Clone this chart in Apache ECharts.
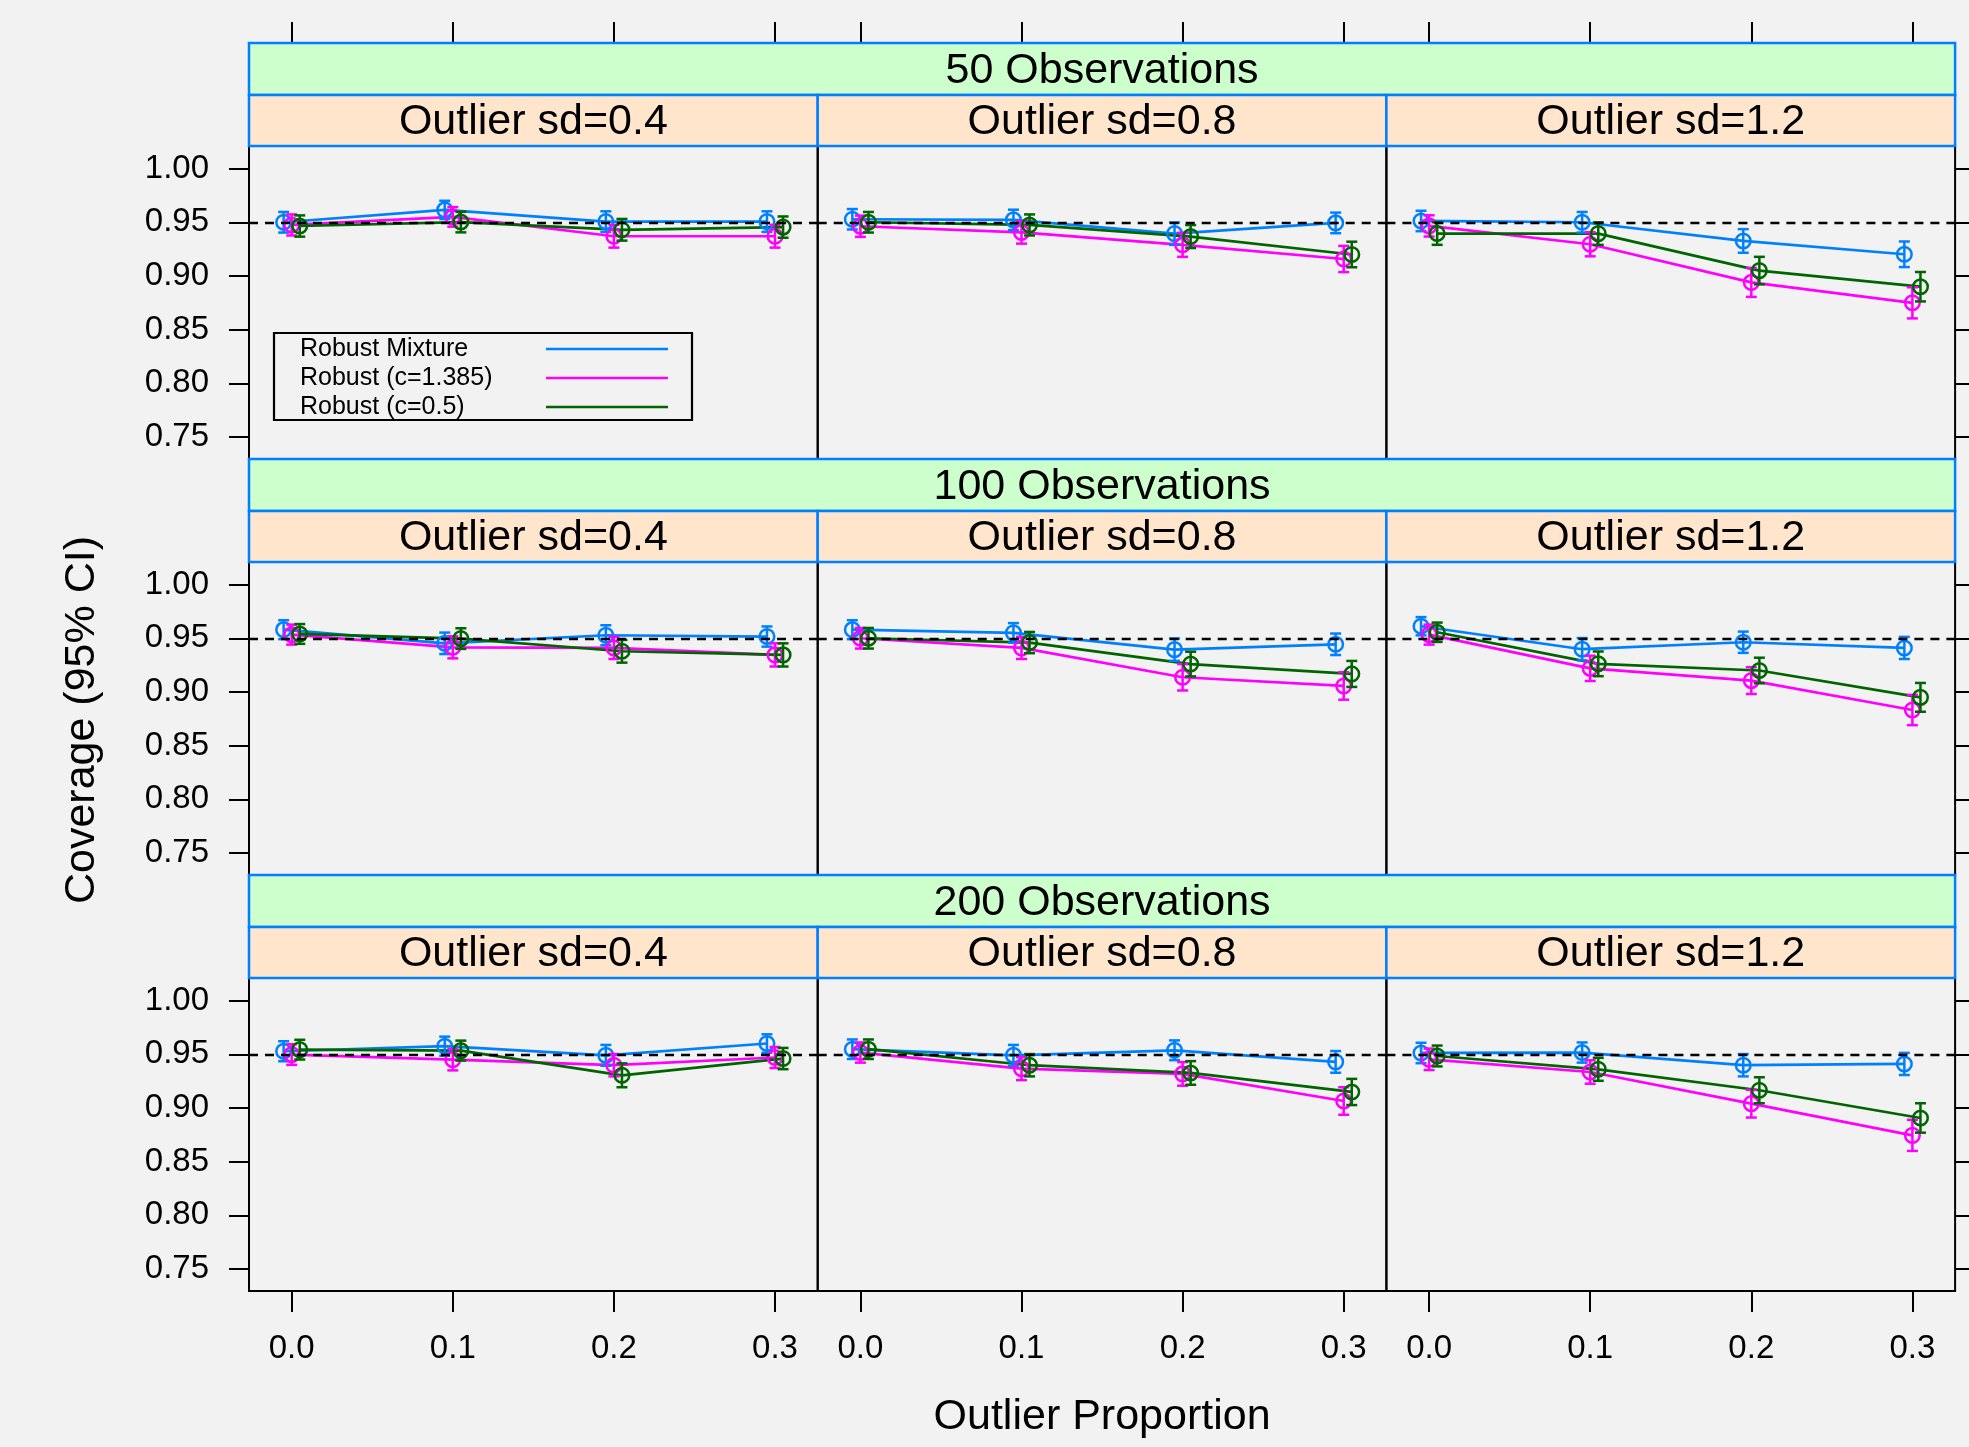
<!DOCTYPE html>
<html>
<head>
<meta charset="utf-8">
<script src="https://cdn.jsdelivr.net/npm/echarts@6/dist/echarts.min.js"></script>
<style>
html,body{margin:0;padding:0;background:#f2f2f2;}
#chart{width:1969px;height:1447px;}
</style>
</head>
<body>
<div id="chart"></div>
<script>
// ---------- DATA ----------
const xVals = [0, 0.1, 0.2, 0.3];
const xTicks = [0, 0.1, 0.2, 0.3];
const yTicks = [0.75, 0.80, 0.85, 0.90, 0.95, 1.00];
const target = 0.95;
const nLabels = ['50 Observations', '100 Observations', '200 Observations'];
const sdLabels = ['Outlier sd=0.4', 'Outlier sd=0.8', 'Outlier sd=1.2'];
const seriesNames = ['Robust Mixture', 'Robust (c=1.385)', 'Robust (c=0.5)'];

// coverage values: [sd=0.4], [sd=0.8], [sd=1.2] ; each over outlier proportion 0,0.1,0.2,0.3
const mixture_n50  = [[0.950, 0.9615, 0.9506, 0.9506], [0.9528, 0.9522, 0.9394, 0.9494], [0.9512, 0.950, 0.9326, 0.9202]];
const huber_n50    = [[0.9475, 0.955, 0.937, 0.937], [0.9463, 0.9405, 0.929, 0.9158], [0.9466, 0.9295, 0.894, 0.875]];
const c05_n50      = [[0.9465, 0.9502, 0.943, 0.9455], [0.950, 0.9475, 0.9367, 0.920], [0.9395, 0.9394, 0.905, 0.890]];

const mixture_n100 = [[0.958, 0.9453, 0.9528, 0.9516], [0.958, 0.955, 0.9394, 0.9444], [0.9612, 0.9398, 0.9463, 0.941]];
const huber_n100   = [[0.9534, 0.9416, 0.941, 0.9345], [0.950, 0.941, 0.9137, 0.9056], [0.9534, 0.922, 0.9106, 0.8832]];
const c05_n100     = [[0.954, 0.9497, 0.9379, 0.9345], [0.950, 0.946, 0.926, 0.9168], [0.9556, 0.9262, 0.920, 0.895]];

const mixture_n200 = [[0.9528, 0.9575, 0.949, 0.960], [0.9547, 0.949, 0.9537, 0.9429], [0.9512, 0.9516, 0.9398, 0.941]];
const huber_n200   = [[0.9497, 0.945, 0.9398, 0.947], [0.9516, 0.9366, 0.9317, 0.9065], [0.9453, 0.9335, 0.904, 0.8745]];
const c05_n200     = [[0.9543, 0.9534, 0.9304, 0.946], [0.9547, 0.9398, 0.9326, 0.9149], [0.9484, 0.936, 0.9165, 0.8907]];

// 95% CI half-widths
const mixture_n50_hw  = [[0.0096, 0.0085, 0.0096, 0.0096], [0.0095, 0.0095, 0.0104, 0.0096], [0.0095, 0.0096, 0.0110, 0.0119]];
const huber_n50_hw    = [[0.0098, 0.0091, 0.0106, 0.0106], [0.0099, 0.0104, 0.0112, 0.0122], [0.0099, 0.0112, 0.0135, 0.0145]];
const c05_n50_hw      = [[0.0099, 0.0096, 0.0101, 0.0099], [0.0096, 0.0098, 0.0107, 0.0119], [0.0105, 0.0105, 0.0128, 0.0137]];

const mixture_n100_hw = [[0.0088, 0.0100, 0.0093, 0.0094], [0.0088, 0.0091, 0.0104, 0.0100], [0.0085, 0.0104, 0.0099, 0.0103]];
const huber_n100_hw   = [[0.0093, 0.0103, 0.0103, 0.0108], [0.0096, 0.0103, 0.0123, 0.0128], [0.0093, 0.0118, 0.0125, 0.0141]];
const c05_n100_hw     = [[0.0092, 0.0096, 0.0106, 0.0108], [0.0096, 0.0099, 0.0115, 0.0121], [0.0090, 0.0115, 0.0119, 0.0134]];

const mixture_n200_hw = [[0.0093, 0.0089, 0.0097, 0.0086], [0.0091, 0.0097, 0.0092, 0.0101], [0.0095, 0.0094, 0.0104, 0.0103]];
const huber_n200_hw   = [[0.0096, 0.0100, 0.0104, 0.0098], [0.0094, 0.0107, 0.0110, 0.0128], [0.0100, 0.0109, 0.0129, 0.0145]];
const c05_n200_hw     = [[0.0092, 0.0093, 0.0111, 0.0099], [0.0091, 0.0104, 0.0110, 0.0122], [0.0097, 0.0107, 0.0121, 0.0137]];

// ---------- LAYOUT / STYLE ----------
const COLORS = ['#0080ff', '#ff00ff', '#006400'];
const DODGE = [-0.005, 0, 0.005];
const FONT = '"Liberation Sans", Arial, Helvetica, sans-serif';
const L = 249, W = 568.7, T0 = 43, PITCH = 416, S1 = 52, S2 = 51, PH = 313;
const XMIN = -0.0265, XMAX = 0.3265, YMIN = 0.7296, YMAX = 1.021;

const cov = [[mixture_n50, huber_n50, c05_n50], [mixture_n100, huber_n100, c05_n100], [mixture_n200, huber_n200, c05_n200]];
const hws = [[mixture_n50_hw, huber_n50_hw, c05_n50_hw], [mixture_n100_hw, huber_n100_hw, c05_n100_hw], [mixture_n200_hw, huber_n200_hw, c05_n200_hw]];

const grids = [], xAxes = [], yAxes = [], series = [], graphics = [];
const tickStyle = { color: '#000', width: 2 };
const noLine = { show: false, onZero: false };

for (let r = 0; r < 3; r++) {
  for (let c = 0; c < 3; c++) {
    const gi = r * 3 + c;
    const top = T0 + r * PITCH + S1 + S2;
    grids.push({ left: L + c * W, top: top, width: W, height: PH, show: true,
      borderColor: '#000', borderWidth: 2, backgroundColor: 'transparent' });
    const xi = xAxes.length;
    xAxes.push({ type: 'value', gridIndex: gi, min: XMIN, max: XMAX, position: 'bottom',
      axisLine: noLine, splitLine: { show: false },
      axisTick: { show: r === 2, customValues: xTicks, length: 21, lineStyle: tickStyle },
      axisLabel: { show: r === 2, customValues: xTicks, formatter: v => v.toFixed(1),
        fontSize: 33, color: '#000', margin: 41, fontFamily: FONT } });
    if (r === 0) {
      xAxes.push({ type: 'value', gridIndex: gi, min: XMIN, max: XMAX, position: 'top', offset: S1 + S2,
        axisLine: noLine, splitLine: { show: false },
        axisTick: { show: true, customValues: xTicks, length: 21, lineStyle: tickStyle },
        axisLabel: { show: false } });
    }
    const yi = yAxes.length;
    yAxes.push({ type: 'value', gridIndex: gi, min: YMIN, max: YMAX, position: 'left',
      axisLine: noLine, splitLine: { show: false },
      axisTick: { show: c === 0, customValues: yTicks, length: 20, lineStyle: tickStyle },
      axisLabel: { show: c === 0, customValues: yTicks, formatter: v => v.toFixed(2),
        fontSize: 33, color: '#000', margin: 40, fontFamily: FONT } });
    if (c === 2) {
      yAxes.push({ type: 'value', gridIndex: gi, min: YMIN, max: YMAX, position: 'right',
        axisLine: noLine, splitLine: { show: false },
        axisTick: { show: true, customValues: yTicks, length: 20, lineStyle: tickStyle },
        axisLabel: { show: false } });
    }
    for (let s = 0; s < 3; s++) {
      const vals = cov[r][s][c], hw = hws[r][s][c];
      const lineSeries = {
        type: 'line', name: seriesNames[s], xAxisIndex: xi, yAxisIndex: yi,
        data: xVals.map((x, k) => [x + DODGE[s], vals[k]]),
        symbol: 'none', lineStyle: { color: COLORS[s], width: 2.7 }, z: 3, silent: true
      };
      if (s === 0) {
        lineSeries.markLine = { silent: true, symbol: 'none', label: { show: false },
          lineStyle: { color: '#000', type: [9, 7], width: 2.4 }, data: [{ yAxis: target }] };
      }
      series.push(lineSeries);
      const color = COLORS[s];
      series.push({
        type: 'custom', name: seriesNames[s], xAxisIndex: xi, yAxisIndex: yi, z: 4, silent: true,
        data: xVals.map((x, k) => [x + DODGE[s], vals[k], vals[k] - hw[k], vals[k] + hw[k]]),
        encode: { x: 0, y: 1 },
        renderItem: function (params, api) {
          const p = api.coord([api.value(0), api.value(1)]);
          const lo = api.coord([api.value(0), api.value(2)]);
          const hi = api.coord([api.value(0), api.value(3)]);
          const st = { stroke: color, lineWidth: 2.5, fill: 'none' };
          return { type: 'group', children: [
            { type: 'line', shape: { x1: p[0], y1: lo[1], x2: p[0], y2: hi[1] }, style: st },
            { type: 'line', shape: { x1: p[0] - 5.5, y1: lo[1], x2: p[0] + 5.5, y2: lo[1] }, style: st },
            { type: 'line', shape: { x1: p[0] - 5.5, y1: hi[1], x2: p[0] + 5.5, y2: hi[1] }, style: st },
            { type: 'circle', shape: { cx: p[0], cy: p[1], r: 7.3 }, style: st }
          ] };
        }
      });
    }
  }
}

// strips
for (let r = 0; r < 3; r++) {
  const gy = T0 + r * PITCH;
  graphics.push({ type: 'rect', z: 20, shape: { x: L, y: gy, width: 3 * W, height: S1 },
    style: { fill: '#ccffcc', stroke: '#0080ff', lineWidth: 2.5 } });
  graphics.push({ type: 'text', z: 21, x: L + 1.5 * W, y: gy + S1 / 2 + 2,
    style: { text: nLabels[r], fontSize: 43, fontFamily: FONT, fill: '#000', align: 'center', verticalAlign: 'middle' } });
  for (let c = 0; c < 3; c++) {
    graphics.push({ type: 'rect', z: 20, shape: { x: L + c * W, y: gy + S1, width: W, height: S2 },
      style: { fill: '#ffe5cc', stroke: '#0080ff', lineWidth: 2.5 } });
    graphics.push({ type: 'text', z: 21, x: L + (c + 0.5) * W, y: gy + S1 + S2 / 2 + 2,
      style: { text: sdLabels[c], fontSize: 43, fontFamily: FONT, fill: '#000', align: 'center', verticalAlign: 'middle' } });
  }
}

// axis titles
graphics.push({ type: 'text', x: L + 1.5 * W, y: 1417,
  style: { text: 'Outlier Proportion', fontSize: 43, fontFamily: FONT, fill: '#000', align: 'center', verticalAlign: 'middle' } });
graphics.push({ type: 'text', x: 82, y: 720, rotation: Math.PI / 2,
  style: { text: 'Coverage (95% CI)', fontSize: 43, fontFamily: FONT, fill: '#000', align: 'center', verticalAlign: 'middle' } });

// legend
graphics.push({ type: 'rect', z: 10, shape: { x: 274, y: 333, width: 418, height: 87 },
  style: { fill: 'none', stroke: '#000', lineWidth: 2.2 } });
const legY = [349, 378, 407];
for (let s = 0; s < 3; s++) {
  graphics.push({ type: 'text', z: 10, x: 300, y: legY[s],
    style: { text: seriesNames[s], fontSize: 25, fontFamily: FONT, fill: '#000', align: 'left', verticalAlign: 'middle' } });
  graphics.push({ type: 'line', z: 10, shape: { x1: 546, y1: legY[s], x2: 668, y2: legY[s] },
    style: { stroke: COLORS[s], lineWidth: 2.4 } });
}

const chart = echarts.init(document.getElementById('chart'), null, { renderer: 'canvas' });
chart.setOption({
  backgroundColor: '#f2f2f2',
  animation: false,
  grid: grids,
  xAxis: xAxes,
  yAxis: yAxes,
  series: series,
  graphic: graphics
});
</script>
</body>
</html>
